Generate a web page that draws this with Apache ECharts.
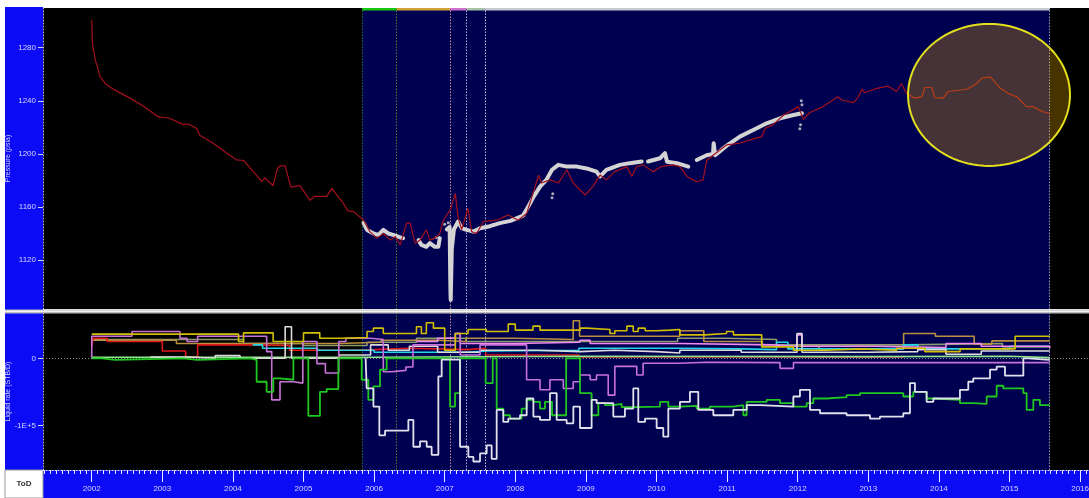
<!DOCTYPE html>
<html>
<head>
<meta charset="utf-8">
<script src="https://cdn.jsdelivr.net/npm/echarts@6/dist/echarts.min.js"></script>
<style>
  html, body { margin: 0; padding: 0; background: #ffffff; }
  #chart { width: 1089px; height: 498px; }
</style>
</head>
<body>
<div id="chart"></div>
<script>
// ---- axis ticks ----------------------------------------------------------
const yearTicks = [2002, 2003, 2004, 2005, 2006, 2007, 2008, 2009, 2010, 2011, 2012, 2013, 2014, 2015, 2016];
const pressureLabels = [1120, 1160, 1200, 1240, 1280];
const pressureMinor = [1100, 1140, 1180, 1220, 1260, 1300];
const rateLabels = [0, -100000];
const rateMinor = [50000, -50000, -150000];

// ---- history-match window and event markers (decimal years) -------------
const historyWindow = [2005.83, 2015.57];
const eventDates = [2005.83, 2006.32, 2007.075, 2007.31, 2007.57, 2015.57];
const eventColors = ['#2c6e2c', '#4f7f34', '#c98b9a', '#b3a8d8', '#b8b8d8', '#9a9ab4'];
const periodColors = ['#14c814', '#d2a236', '#d070d0', '#a8c2a8', '#c9c9d2'];

// ---- pressure (psia) ------------------------------------------------------
const simPressure = [
  [2002.00,1301],[2002.01,1283],[2002.05,1271],[2002.12,1258],[2002.21,1252],[2002.33,1248],
  [2002.54,1242],[2002.73,1236],[2002.94,1228],[2003.09,1227],[2003.30,1222],[2003.37,1222.5],
  [2003.49,1219],[2003.53,1214],[2003.72,1208],[2003.90,1201],[2004.05,1195.5],[2004.15,1195],
  [2004.20,1192],[2004.41,1179],[2004.45,1182],[2004.57,1176],[2004.63,1189],[2004.67,1191],
  [2004.74,1191],[2004.82,1175],[2004.95,1176],[2005.09,1165],[2005.16,1168],[2005.33,1168],
  [2005.40,1174],[2005.56,1163],[2005.63,1157],[2005.71,1156.5],[2005.85,1150],[2005.94,1141.4],
  [2006.04,1136.5],[2006.13,1140],[2006.23,1135],[2006.30,1137.7],[2006.37,1131.4],[2006.46,1147.8],
  [2006.51,1147.8],[2006.58,1132.7],[2006.65,1135],[2006.74,1142.7],[2006.79,1135],[2006.86,1136.5],
  [2006.93,1140],[2006.98,1150],[2007.08,1158],[2007.15,1170],[2007.19,1152],[2007.24,1143],
  [2007.33,1159],[2007.38,1141.4],[2007.45,1140],[2007.55,1149],[2007.74,1150],[2007.90,1154],
  [2008.04,1150],[2008.16,1155],[2008.23,1166.6],[2008.33,1184],[2008.37,1178],[2008.49,1180.4],
  [2008.61,1178],[2008.73,1188],[2008.82,1178],[2008.99,1169],[2009.10,1175.5],[2009.20,1184],
  [2009.29,1180.4],[2009.41,1186.6],[2009.58,1190.4],[2009.65,1183],[2009.72,1190.4],[2009.81,1191.7],
  [2009.95,1186.6],[2010.07,1190.4],[2010.24,1191.7],[2010.33,1190.4],[2010.43,1183],[2010.57,1179],
  [2010.66,1180.4],[2010.71,1195],[2010.78,1198],[2010.99,1206.7],[2011.18,1208],[2011.32,1210.5],
  [2011.49,1213],[2011.54,1219.3],[2011.65,1221.8],[2011.80,1229.3],[2012.01,1235.6],[2012.08,1226],
  [2012.17,1231],[2012.25,1233],[2012.36,1235.6],[2012.46,1239.3],[2012.57,1243],[2012.62,1240.6],
  [2012.79,1238.6],[2012.86,1243],[2012.91,1248.7],[2012.95,1246],[2013.12,1249.4],[2013.28,1251],
  [2013.33,1249.4],[2013.40,1247],[2013.47,1253],[2013.54,1245.6],[2013.66,1242],[2013.76,1243],
  [2013.80,1250],[2013.90,1250],[2013.94,1242.4],[2014.06,1242],[2014.13,1247],[2014.39,1248.7],
  [2014.51,1252],[2014.61,1257],[2014.73,1258],[2014.87,1249.4],[2014.98,1245.6],[2015.10,1243],
  [2015.24,1235.6],[2015.33,1235.6],[2015.47,1231.8],[2015.58,1230]
];

const obsPressure = [
  [2005.85,1148],[2005.90,1142.7],[2005.99,1140],[2006.06,1139],[2006.13,1142.7],[2006.20,1140],
  [2006.27,1139],[2006.37,1137],[2006.41,1136.5],[2006.52,null],
  [2006.63,1135],[2006.67,1131.4],[2006.74,1130],[2006.79,1132.7],[2006.86,1130],[2006.91,1130],
  [2006.93,1136.5],[2006.99,null],
  [2007.03,1143],[2007.07,1145],[2007.08,1100],[2007.085,1090],[2007.10,1128],[2007.13,1143],
  [2007.19,1149],[2007.24,1144],[2007.31,1142.7],[2007.41,1141.4],[2007.50,1144],[2007.64,1145.5],
  [2007.78,1147.8],[2007.93,1149.5],[2008.11,1153.5],[2008.18,1160],[2008.26,1167.8],[2008.35,1175.3],
  [2008.44,1180.4],[2008.52,1188],[2008.61,1191.7],[2008.73,1190.4],[2008.87,1190.4],[2009.01,1189],
  [2009.15,1186.6],[2009.20,1183],[2009.29,1188],[2009.48,1191.7],[2009.62,1193],[2009.79,1194.2],
  [2009.83,null],
  [2009.88,1194.2],[2010.05,1196.7],[2010.12,1200.5],[2010.15,1194],[2010.29,1193],[2010.45,1190.4],
  [2010.51,null],
  [2010.57,1195.4],[2010.71,1199],[2010.80,1200],[2010.81,1208],[2010.83,1199],[2010.99,1206],
  [2011.18,1213],[2011.37,1218],[2011.56,1223],[2011.75,1226.8],[2011.94,1229.3],[2012.06,1230.6]
];

const obsOutliers = [
  [2012.05,1240],[2012.06,1237],[2012.04,1222],[2012.03,1219],[2007.05,1148],[2007.00,1147],
  [2007.08,1096],[2007.085,1093],[2008.52,1167],[2008.53,1170],[2006.88,1137]
];

// ---- liquid rates per well (STB/D), step data -----------------------------
const rateYellow = [
  [2002.0,36000],[2004.08,25000],[2004.15,38000],[2004.57,25000],[2005.0,38000],[2005.23,30000],
  [2005.52,31000],[2005.90,40000],[2005.99,45000],[2006.13,37000],[2006.60,47000],[2006.67,37000],
  [2006.74,53000],[2006.84,45000],[2007.0,12000],[2007.15,37000],[2007.33,43000],[2007.59,40000],
  [2007.90,51000],[2008.0,42000],[2008.25,48000],[2008.35,42000],[2008.92,45000],[2009.01,43000],
  [2009.34,37000],[2009.41,41000],[2009.58,48000],[2009.67,40000],[2009.74,45000],[2009.84,41000],
  [2010.0,42000],[2010.19,43000],[2010.33,35000],[2010.69,37000],[2010.99,40000],[2011.09,35000],
  [2011.49,17000],[2011.94,12000],[2012.4,14000],[2012.9,12000],[2013.4,15000],[2013.8,10000],
  [2014.3,14000],[2015.08,33000],[2015.57,33000]
];
const rateBrown = [
  [2002.0,27000],[2003.2,22000],[2004.9,22000],[2005.5,24000],[2006.1,27000],[2006.9,25000],
  [2007.3,30000],[2008.0,28000],[2008.82,56000],[2008.91,33000],[2010.33,41000],[2010.67,25000],
  [2011.5,18000],[2012.3,14000],[2013.5,37000],[2013.95,33000],[2014.5,21000],[2014.75,26000],
  [2015.57,26000]
];
const rateOlive = [
  [2002.0,28000],[2004.0,28000],[2004.15,22000],[2005.0,19000],[2005.9,24000],[2006.6,30000],
  [2007.3,25000],[2008.9,25000],[2010.3,30000],[2011.0,28000],[2011.7,20000],[2013.5,22000],
  [2014.9,17000],[2015.57,17000]
];
const rateRed = [
  [2002.0,18000],[2002.02,30000],[2002.22,25000],[2003.0,11000],[2003.33,2000],[2003.5,20000],
  [2004.27,19000],[2004.8,12000],[2005.65,13000],[2006.0,15000],[2006.5,13000],[2007.33,15000],
  [2007.58,5000],[2008.9,2000],[2013.5,2000]
];
const rateCyan = [
  [2004.28,20000],[2004.42,15000],[2005.2,12000],[2006.0,9000],[2007.3,11000],[2007.6,12000],
  [2008.9,15000],[2010.3,14000],[2011.2,13000],[2011.7,24000],[2011.86,14000],[2013.1,14000],
  [2013.5,20000],[2013.7,14000],[2015.0,18000],[2015.57,18000]
];
const ratePink = [
  [2006.6,25000],[2006.9,30000],[2007.15,37000],[2007.22,22000],[2008.0,24000],[2008.916,27000],
  [2009.06,22000],[2010.33,20000],[2011.65,18000],[2011.99,35000],[2012.06,18000],[2013.1,16000],
  [2014.1,22000],[2014.6,18000],[2015.57,15000]
];
const rateViolet = [
  [2002.0,0],[2002.001,33000],[2002.57,40000],[2003.25,30000],[2003.35,25000],[2003.5,33000],
  [2004.478,10000],[2004.55,-62000],[2004.667,-35000],[2004.856,-37000],[2004.99,25000],
  [2005.19,-8000],[2005.31,-22000],[2005.5,25000],[2005.6,30000],[2005.95,28000],[2006.13,-20000],
  [2006.25,-18000],[2006.45,-13000],[2006.55,20000],[2007.15,37000],[2007.22,5000],[2007.5,20000],
  [2008.16,-32000],[2008.35,-47000],[2008.49,-32000],[2008.68,-45000],[2008.82,-35000],
  [2008.916,-25000],[2009.06,-32000],[2009.15,-25000],[2009.316,-55000],[2009.41,-12000],
  [2009.72,-25000],[2009.81,-7500],[2010.33,-6000],[2010.7,-6500],[2011.75,-15000],[2011.94,-6500],
  [2015.57,-7500]
];
const rateWhitePos = [
  [2002.83,2000],[2003.35,0],[2003.75,4000],[2004.1,0],[2004.74,47000],[2004.83,0],[2005.5,5000],
  [2005.95,20000],[2006.2,12000],[2006.5,18000],[2006.9,9000],[2007.5,12000],[2008.3,10000],
  [2008.916,12000],[2009.4,10000],[2010.0,8000],[2010.33,12000],[2011.2,9000],[2011.99,37000],
  [2012.06,9000],[2013.0,10000],[2013.7,13000],[2014.1,6000],[2014.6,11000],[2015.57,11000]
];
const rateLightGreen = [
  [2002.0,1500],[2006.0,3000],[2008.9,2500],[2013.0,3000],[2015.0,1000],[2015.57,1000]
];
const rateWhite = [
  [2005.88,0],[2005.895,-45000],[2005.99,-72000],[2006.074,-115000],[2006.155,-108000],
  [2006.485,-92000],[2006.556,-132000],[2006.65,-124000],[2006.745,-132000],[2006.815,-144000],
  [2006.91,-27000],[2006.957,-2000],[2007.217,-132000],[2007.335,-147000],[2007.406,-154000],
  [2007.5,-142000],[2007.594,-130000],[2007.665,-150000],[2007.736,-77000],[2007.83,-95000],
  [2007.9,-90000],[2008.067,-85000],[2008.161,-60000],[2008.256,-87000],[2008.35,-92000],
  [2008.491,-52000],[2008.586,-92000],[2008.727,-97000],[2008.822,-72000],[2008.916,-104000],
  [2009.081,-62000],[2009.152,-67000],[2009.388,-87000],[2009.553,-75000],[2009.671,-45000],
  [2009.742,-95000],[2009.837,-90000],[2010.002,-104000],[2010.096,-117000],[2010.167,-75000],
  [2010.332,-65000],[2010.474,-50000],[2010.592,-77000],[2010.805,-85000],[2011.088,-77000],
  [2011.277,-70000],[2011.466,-72000],[2011.938,-57000],[2012.032,-47000],[2012.174,-77000],
  [2012.316,-82000],[2012.693,-85000],[2013.024,-90000],[2013.165,-87000],[2013.496,-82000],
  [2013.59,-37000],[2013.661,-50000],[2013.826,-65000],[2013.921,-60000],[2014.298,-47000],
  [2014.416,-35000],[2014.487,-30000],[2014.724,-17000],[2014.818,-12500],[2014.936,-26000],
  [2015.196,0],[2015.266,-2500],[2015.57,-2500]
];
const rateGreen = [
  [2002.0,0],[2002.14,-2500],[2002.33,0],[2003.3,-2500],[2003.49,0],[2004.242,-2500],
  [2004.336,-35000],[2004.478,-50000],[2004.572,-30000],[2004.667,-32000],[2004.856,0],
  [2005.068,-86000],[2005.233,-50000],[2005.328,-46000],[2005.493,0],[2005.824,-32000],
  [2005.918,-62000],[2005.99,-42000],[2006.084,-17000],[2006.178,0],[2007.075,-72000],
  [2007.146,-52000],[2007.217,0],[2007.58,-37000],[2007.68,0],[2007.736,-75000],[2007.83,-85000],
  [2007.925,-90000],[2008.09,-75000],[2008.16,-62000],[2008.256,-65000],[2008.35,-75000],
  [2008.42,-65000],[2008.52,-85000],[2008.72,0],[2008.916,-52000],[2009.081,-85000],
  [2009.176,-67000],[2009.27,-70000],[2009.388,-68000],[2009.506,-73000],[2009.695,-72000],
  [2010.05,-65000],[2010.167,-72000],[2010.332,-71000],[2010.569,-75000],[2010.757,-72000],
  [2011.088,-70000],[2011.23,-85000],[2011.277,-65000],[2011.56,-62000],[2011.749,-67000],
  [2011.938,-72000],[2012.127,-67000],[2012.221,-60000],[2012.41,-58000],[2012.693,-55000],
  [2012.882,-52000],[2013.496,-57000],[2013.638,-50000],[2013.826,-60000],[2013.921,-62000],
  [2014.298,-67000],[2014.487,-68000],[2014.676,-57000],[2014.818,-41000],[2014.912,-45000],
  [2015.196,-52000],[2015.243,-77000],[2015.337,-62000],[2015.431,-70000],[2015.57,-70000]
];

// highlighted zone on the pressure panel (centre in year / psia, radii in year / psia)
const focusZone = { year: 2014.71, psia: 1244.4, rYear: 1.147, rPsia: 53.5 };

// ---- layout ---------------------------------------------------------------
const X_MIN = 2001.31, X_MAX = 2016.126;
const P_MIN = 1083.1, P_MAX = 1309.9;
const Q_MIN = -166700, Q_MAX = 67600;
const AXIS_BLUE = '#0b0bf5';
const PLOT_NAVY = '#000050';
const LABEL_COLOR = '#d6d6ff';
const FONT = 'Liberation Sans';

const monthTicks = [];
for (let y = 2001; y <= 2016; y++) {
  for (let m = 0; m < 12; m++) {
    const v = y + m / 12;
    if (v > X_MIN && v < X_MAX) monthTicks.push(v);
  }
}

const chart = echarts.init(document.getElementById('chart'), null, { renderer: 'canvas' });

function hiddenX(gridIndex) {
  return {
    type: 'value', gridIndex, min: X_MIN, max: X_MAX,
    axisLine: { show: false, onZero: false }, axisTick: { show: false }, axisLabel: { show: false },
    splitLine: { show: false }
  };
}

function rateSeries(name, data, color, width) {
  return {
    name, type: 'line', xAxisIndex: 1, yAxisIndex: 2, step: 'end', data,
    symbol: 'none', z: 3, silent: true,
    lineStyle: { color, width: width || 1.6 }
  };
}

const gridBase = { left: 43, right: 0, show: true, backgroundColor: '#000000', borderWidth: 0,
                   containLabel: false, outerBoundsMode: 'none' };

const eventLines = eventDates.map((d, i) => ({
  xAxis: d, lineStyle: { color: eventColors[i], type: [1.5, 1.5], width: 1 }
}));

const periodAreas = periodColors.map((c, i) => [
  { xAxis: eventDates[i], itemStyle: { color: c } },
  { xAxis: eventDates[i + 1] }
]);

const option = {
  animation: false,
  backgroundColor: '#ffffff',
  textStyle: { fontFamily: FONT },
  graphic: [
    { type: 'rect', z: -10, shape: { x: 5, y: 7, width: 38, height: 463 }, style: { fill: AXIS_BLUE } },
    { type: 'rect', z: -10, shape: { x: 43, y: 470, width: 1046, height: 28 }, style: { fill: AXIS_BLUE } },
    { type: 'rect', z: -10, shape: { x: 5, y: 470, width: 38, height: 28 },
      style: { fill: '#ffffff', stroke: '#9a9a9a', lineWidth: 1 } },
    { type: 'text', z: 50, style: { x: 24, y: 484, text: 'ToD', fill: '#303030',
      font: 'bold 8px ' + FONT, align: 'center', verticalAlign: 'middle' } },
    { type: 'rect', z: 100, shape: { x: 5, y: 309.5, width: 1084, height: 4 }, style: { fill: '#bdbdbd' } },
    { type: 'rect', z: 101, shape: { x: 5, y: 310.5, width: 1084, height: 1.5 }, style: { fill: '#f2f2f2' } }
  ],
  grid: [
    Object.assign({ top: 8, height: 301 }, gridBase),
    Object.assign({ top: 313, height: 157 }, gridBase),
    Object.assign({}, gridBase, { top: 8, height: 2.5, show: false })
  ],
  xAxis: [
    hiddenX(0),
    {
      type: 'value', gridIndex: 1, min: X_MIN, max: X_MAX, position: 'bottom',
      axisLine: { show: true, onZero: false, lineStyle: { color: '#e8e8ff', type: [1, 2], width: 1 } },
      axisTick: { show: true, customValues: yearTicks, length: 12, lineStyle: { color: '#e8e8ff', width: 1 } },
      axisLabel: { show: true, customValues: yearTicks, margin: 15, color: LABEL_COLOR, fontSize: 8,
                   fontFamily: FONT, formatter: v => String(v) },
      splitLine: { show: false }
    },
    {
      type: 'value', gridIndex: 1, min: X_MIN, max: X_MAX, position: 'bottom',
      axisLine: { show: false, onZero: false },
      axisTick: { show: true, customValues: monthTicks, length: 4, lineStyle: { color: '#e8e8ff', width: 1 } },
      axisLabel: { show: false }, splitLine: { show: false }
    },
    hiddenX(2)
  ],
  yAxis: [
    {
      type: 'value', gridIndex: 0, min: P_MIN, max: P_MAX,
      name: 'Pressure (psia)', nameLocation: 'middle', nameGap: 31, nameRotate: 90, nameMoveOverlap: false,
      nameTextStyle: { color: LABEL_COLOR, fontSize: 7, fontFamily: FONT },
      axisLine: { show: true, onZero: false, lineStyle: { color: '#b4b4e6', type: [1, 2] } },
      axisTick: { show: true, customValues: pressureLabels, length: 5, lineStyle: { color: '#d0d0f0' } },
      axisLabel: { customValues: pressureLabels, margin: 7, color: LABEL_COLOR, fontSize: 8, fontFamily: FONT,
                   formatter: v => String(v) },
      splitLine: { show: false }
    },
    {
      type: 'value', gridIndex: 0, min: P_MIN, max: P_MAX,
      axisLine: { show: false, onZero: false },
      axisTick: { show: true, customValues: pressureMinor, length: 2, lineStyle: { color: '#b4b4e6' } },
      axisLabel: { show: false }, splitLine: { show: false }
    },
    {
      type: 'value', gridIndex: 1, min: Q_MIN, max: Q_MAX,
      name: 'Liquid rate (STB/D)', nameLocation: 'middle', nameGap: 31, nameRotate: 90, nameMoveOverlap: false,
      nameTextStyle: { color: LABEL_COLOR, fontSize: 7, fontFamily: FONT },
      axisLine: { show: true, onZero: false, lineStyle: { color: '#b4b4e6', type: [1, 2] } },
      axisTick: { show: true, customValues: rateLabels, length: 5, lineStyle: { color: '#d0d0f0' } },
      axisLabel: { customValues: rateLabels, margin: 7, color: LABEL_COLOR, fontSize: 8, fontFamily: FONT,
                   formatter: v => (v === 0 ? '0' : (v / 100000) + 'E+5') },
      splitLine: { show: false }
    },
    {
      type: 'value', gridIndex: 1, min: Q_MIN, max: Q_MAX,
      axisLine: { show: false, onZero: false },
      axisTick: { show: true, customValues: rateMinor, length: 2, lineStyle: { color: '#b4b4e6' } },
      axisLabel: { show: false }, splitLine: { show: false }
    },
    {
      type: 'value', gridIndex: 2, min: 0, max: 1, show: false
    }
  ],
  series: [
    // history window shading and event markers, pressure panel
    {
      type: 'line', xAxisIndex: 0, yAxisIndex: 0, data: [], silent: true, z: 1,
      markArea: { silent: true, z: 1, itemStyle: { color: PLOT_NAVY },
                  data: [[{ xAxis: historyWindow[0] }, { xAxis: historyWindow[1] }]] },
      markLine: { silent: true, symbol: 'none', label: { show: false }, z: 2, data: eventLines }
    },
    // history window shading, event markers and zero line, rate panel
    {
      type: 'line', xAxisIndex: 1, yAxisIndex: 2, data: [], silent: true, z: 1,
      markArea: { silent: true, z: 1, itemStyle: { color: PLOT_NAVY },
                  data: [[{ xAxis: historyWindow[0] }, { xAxis: historyWindow[1] }]] },
      markLine: { silent: true, symbol: 'none', label: { show: false }, z: 2,
                  data: eventLines.concat([{ yAxis: 0, lineStyle: { color: '#8a8a8a', type: [1, 2], width: 1 } }]) }
    },
    // period bar along the top edge
    {
      type: 'line', xAxisIndex: 3, yAxisIndex: 4, data: [], silent: true, z: 6,
      markArea: { silent: true, z: 6, data: periodAreas }
    },
    // measured pressure
    {
      name: 'Measured', type: 'line', xAxisIndex: 0, yAxisIndex: 0, data: obsPressure, symbol: 'none',
      connectNulls: false, z: 3, silent: true,
      lineStyle: { color: '#d4d4d4', width: 4, cap: 'round', join: 'round' }
    },
    {
      name: 'Measured points', type: 'scatter', xAxisIndex: 0, yAxisIndex: 0, data: obsOutliers,
      symbolSize: 3, z: 3, silent: true, itemStyle: { color: '#d4d4d4' }
    },
    // simulated pressure
    {
      name: 'Simulated', type: 'line', xAxisIndex: 0, yAxisIndex: 0, data: simPressure, symbol: 'none',
      z: 4, silent: true, lineStyle: { color: '#a3101c', width: 1.2 }
    },
    // highlighted zone
    {
      type: 'custom', xAxisIndex: 0, yAxisIndex: 0, z: 8, silent: true,
      data: [[focusZone.year, focusZone.psia]],
      renderItem: function (params, api) {
        const c = api.coord([focusZone.year, focusZone.psia]);
        const e = api.coord([focusZone.year + focusZone.rYear, focusZone.psia + focusZone.rPsia]);
        const rx = Math.abs(e[0] - c[0]), ry = Math.abs(e[1] - c[1]);
        const pts = [];
        for (let k = 0; k < 96; k++) {
          const a = (k / 96) * Math.PI * 2;
          pts.push([c[0] + rx * Math.cos(a), c[1] + ry * Math.sin(a)]);
        }
        return {
          type: 'polygon', shape: { points: pts },
          style: { fill: 'rgba(232,170,0,0.30)', stroke: '#e4df1c', lineWidth: 2 }
        };
      }
    },
    // liquid rates
    rateSeries('W-olive', rateOlive, '#8c9a6e'),
    rateSeries('W-brown', rateBrown, '#b98f3e'),
    rateSeries('W-red', rateRed, '#e01818'),
    rateSeries('W-cyan', rateCyan, '#22d6e6'),
    rateSeries('W-pink', ratePink, '#f08cf0'),
    rateSeries('W-lightgreen', rateLightGreen, '#8ee68e'),
    rateSeries('W-whitepos', rateWhitePos, '#dcdcdc'),
    rateSeries('W-violet', rateViolet, '#c872d8'),
    rateSeries('W-yellow', rateYellow, '#d2c000'),
    rateSeries('W-green', rateGreen, '#1ec81e', 1.8),
    rateSeries('W-white', rateWhite, '#e2e2ee', 1.8)
  ]
};

chart.setOption(option);
</script>
</body>
</html>
